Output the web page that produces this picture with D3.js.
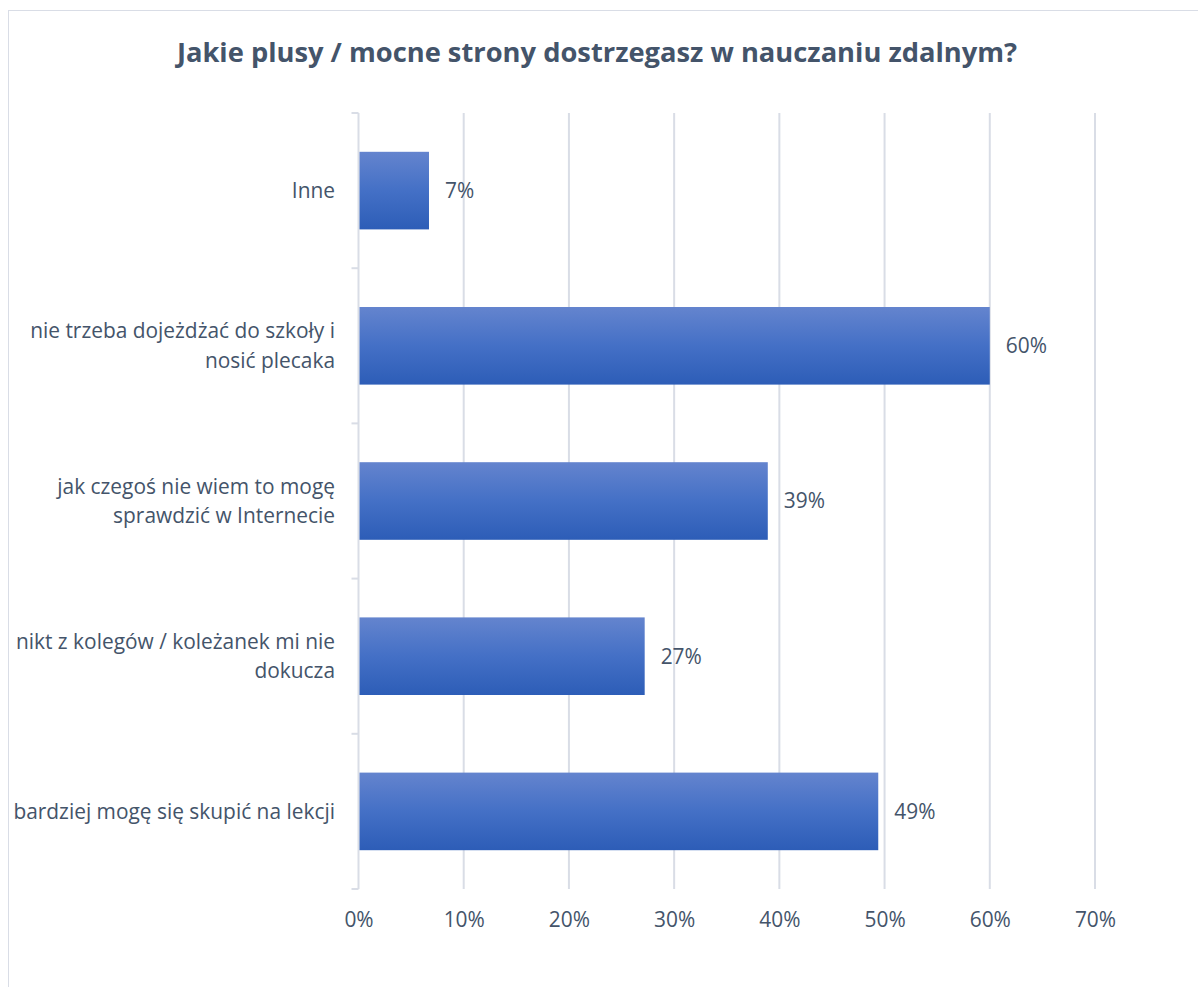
<!DOCTYPE html>
<html><head><meta charset="utf-8">
<script src="https://cdn.jsdelivr.net/npm/d3@7"></script>
<style>
html,body{margin:0;padding:0;background:#fff;}
text{font-family:"Open Sans","Noto Sans",sans-serif;}
</style></head>
<body><svg id="c" width="1198" height="987"></svg>
<script>
const title = "Jakie plusy / mocne strony dostrzegasz w nauczaniu zdalnym?";
const categories = [
  ["Inne"],
  ["nie trzeba dojeżdżać do szkoły i", "nosić plecaka"],
  ["jak czegoś nie wiem to mogę", "sprawdzić w Internecie"],
  ["nikt z kolegów / koleżanek mi nie", "dokucza"],
  ["bardziej mogę się skupić na lekcji"]
];
const values = [0.067, 0.60, 0.389, 0.272, 0.494];
const valueLabels = ["7%", "60%", "39%", "27%", "49%"];
const ticks = [0, 0.1, 0.2, 0.3, 0.4, 0.5, 0.6, 0.7];
const tickLabels = ["0%", "10%", "20%", "30%", "40%", "50%", "60%", "70%"];

const svg = d3.select("#c");
const textColor = "#44546A";
const gridColor = "#D9DDE6";
const fs = 20.9;

svg.append("rect").attr("x", 8.5).attr("y", 10.5).attr("width", 1200).attr("height", 1000)
  .attr("fill", "#fff").attr("stroke", "#D9DDE6").attr("stroke-width", 1);

const defs = svg.append("defs");
const grad = defs.append("linearGradient").attr("id", "g").attr("x1", 0).attr("y1", 0).attr("x2", 0).attr("y2", 1);
grad.append("stop").attr("offset", "0%").attr("stop-color", "#6484CE");
grad.append("stop").attr("offset", "50%").attr("stop-color", "#4470C6");
grad.append("stop").attr("offset", "100%").attr("stop-color", "#2D5DB7");

const x = d3.scaleLinear().domain([0, 0.7]).range([358.5, 1095]);
const idx = d3.range(categories.length);
const y = d3.scaleBand().domain(idx).range([113, 889]).paddingInner(0.5).paddingOuter(0.25);
const yb = d3.scaleBand().domain(idx).range([113, 889]);

svg.append("text").attr("x", 597).attr("y", 62).attr("text-anchor", "middle")
  .attr("font-size", 27.3).attr("font-weight", "bold").attr("fill", textColor).text(title);

// gridlines
svg.append("g").selectAll("line").data(ticks.slice(1)).join("line")
  .attr("x1", d => x(d)).attr("x2", d => x(d)).attr("y1", 113).attr("y2", 889)
  .attr("stroke", gridColor).attr("stroke-width", 2);

// x axis labels
const xa = svg.append("g").attr("transform", "translate(0,889)")
  .call(d3.axisBottom(x).tickValues(ticks).tickFormat((d, i) => tickLabels[i]).tickSize(0).tickPadding(23));
xa.select(".domain").remove();
xa.selectAll("text").attr("font-size", fs).attr("fill", textColor).attr("font-family", "Open Sans, Noto Sans, sans-serif");

// y axis line and ticks
const ya = svg.append("g").attr("transform", "translate(358.5,0)");
ya.append("line").attr("x1", 0).attr("x2", 0).attr("y1", 113).attr("y2", 889).attr("stroke", gridColor).attr("stroke-width", 2);
const bounds = idx.map(i => yb(i)).concat([889]);
ya.selectAll("line.t").data(bounds).join("line").attr("class", "t")
  .attr("x1", -7).attr("x2", 0).attr("y1", d => d).attr("y2", d => d)
  .attr("stroke", gridColor).attr("stroke-width", 2);

// bars
svg.append("g").selectAll("rect").data(idx).join("rect")
  .attr("x", x(0) + 1).attr("y", i => y(i)).attr("height", y.bandwidth())
  .attr("width", i => x(values[i]) - x(0) - 1).attr("fill", "url(#g)");

// value labels
svg.append("g").selectAll("text").data(idx).join("text")
  .attr("x", i => x(values[i]) + 16).attr("y", i => y(i) + y.bandwidth() / 2)
  .attr("dy", "0.35em").attr("font-size", fs).attr("fill", textColor).text(i => valueLabels[i]);

// category labels
const cl = svg.append("g").selectAll("text").data(idx).join("text")
  .attr("text-anchor", "end").attr("font-size", fs).attr("fill", textColor)
  .attr("y", i => y(i) + y.bandwidth() / 2);
cl.each(function(i) {
  const lines = categories[i];
  const lh = 29.5;
  const t = d3.select(this);
  lines.forEach((ln, k) => {
    t.append("tspan").attr("x", 335)
      .attr("y", y(i) + y.bandwidth() / 2 + (k - (lines.length - 1) / 2) * lh)
      .attr("dy", "0.35em").text(ln);
  });
});
</script></body></html>
